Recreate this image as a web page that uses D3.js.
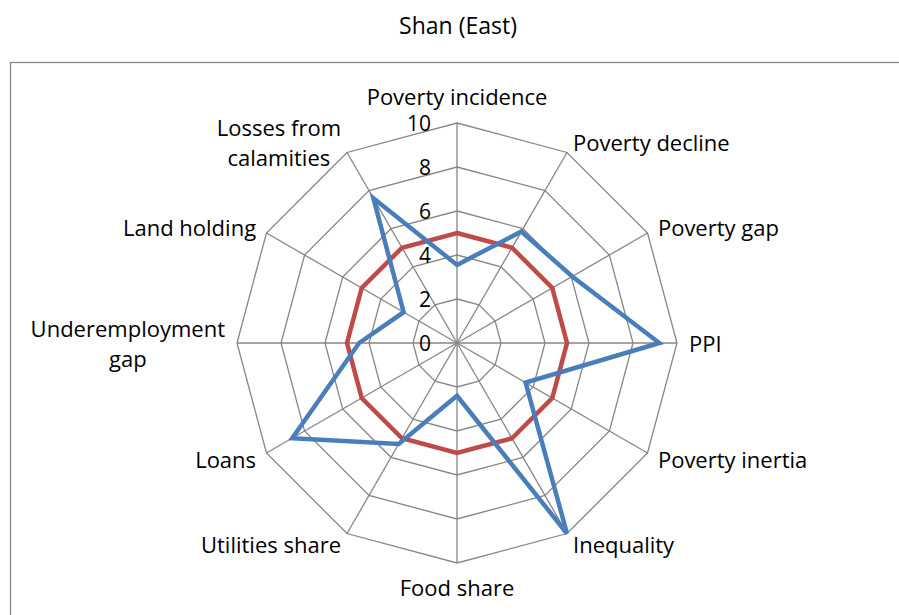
<!DOCTYPE html>
<meta charset="utf-8">
<html>
<style>
 body { margin:0; background:#fff; }
 svg text { font-family: "Open Sans", sans-serif; fill:#000; }
</style>
<script src="https://d3js.org/d3.v7.min.js"></script>
<body>
<svg width="899" height="615"></svg>
<script>
const title = "Shan (East)"
const axes = ["Poverty incidence","Poverty decline","Poverty gap","PPI","Poverty inertia","Inequality",
	"Food share","Utilities share","Loans","Underemployment gap","Land holding","Losses from calamities"]
// how long labels are wrapped in the picture
const axisLines = [["Poverty incidence"],["Poverty decline"],["Poverty gap"],["PPI"],["Poverty inertia"],["Inequality"],
	["Food share"],["Utilities share"],["Loans"],["Underemployment","gap"],["Land holding"],["Losses from","calamities"]]
const blueValues = [3.55, 5.85, 6.05, 9.2, 3.6, 10, 2.4, 5.3, 8.65, 4.45, 2.8, 7.6]
const redValues = [5,5,5,5,5,5,5,5,5,5,5,5]
const ticks = [0,2,4,6,8,10]

const svg = d3.select('svg')
const cx = 457, cy = 343, R = 220
const fontSize = 22

const r = d3.scaleLinear().domain([0,10]).range([0,R])
const ang = d3.scaleLinear().domain([0,axes.length]).range([0,2*Math.PI])
const pt = (i,v)=>[cx + r(v)*Math.sin(ang(i)), cy - r(v)*Math.cos(ang(i))]

svg.append('text')
	.attr('x',458).attr('y',25)
	.attr('text-anchor','middle')
	.attr('dominant-baseline','central')
	.attr('font-size',23)
	.text(title)

svg.append('rect')
	.attr('x',10.5).attr('y',62.5)
	.attr('width',1000).attr('height',700)
	.attr('fill','none')
	.attr('stroke','#868686')
	.attr('stroke-width',1.3)

const grid = svg.append('g')
	.attr('fill','none')
	.attr('stroke','#868686')
	.attr('stroke-width',1.3)

ticks.filter(t=>t>0).forEach(t=>{
	grid.append('path')
		.attr('d', d3.line()(axes.map((a,i)=>pt(i,t))) + 'Z')
})
axes.forEach((a,i)=>{
	grid.append('line')
		.attr('x1',cx).attr('y1',cy)
		.attr('x2',pt(i,10)[0]).attr('y2',pt(i,10)[1])
})

const line = d3.line().curve(d3.curveLinearClosed)

svg.append('path')
	.attr('d', line(redValues.map((v,i)=>pt(i,v))))
	.attr('fill','none')
	.attr('stroke','#BE4B48')
	.attr('stroke-width',4.5)
	.attr('stroke-linejoin','miter')

svg.append('path')
	.attr('d', line(blueValues.map((v,i)=>pt(i,v))))
	.attr('fill','none')
	.attr('stroke','#4A7EBB')
	.attr('stroke-width',4.5)
	.attr('stroke-linejoin','miter')

// tick labels along the top axis
svg.append('g').selectAll('text')
	.data(ticks)
	.join('text')
	.attr('x',cx-26)
	.attr('y',d=>cy - r(d))
	.attr('text-anchor','end')
	.attr('dominant-baseline','central')
	.attr('font-size',21)
	.text(d=>d)

// category labels
const lineH = 30
const labels = svg.append('g')
axisLines.forEach((lines,i)=>{
	const a = ang(i)
	const s = Math.sin(a), c = Math.cos(a)
	let [x,y] = pt(i,10)
	x += 12*s
	y -= 12*c
	let anchor = 'middle'
	if (s > 0.1) anchor = 'start'
	else if (s < -0.1) anchor = 'end'
	else if (c > 0) y -= 15
	else y += 12
	const g = labels.append('g')
	const texts = lines.map((l,k)=>g.append('text')
		.attr('y', y + (k - (lines.length-1)/2)*lineH)
		.attr('dominant-baseline','central')
		.attr('font-size',fontSize)
		.attr('text-anchor','middle')
		.text(l))
	const w = d3.max(texts, t=>t.node().getComputedTextLength())
	const mid = anchor==='start' ? x + w/2 : anchor==='end' ? x - w/2 : x
	texts.forEach(t=>t.attr('x',mid))
})
</script>
</body>
</html>
